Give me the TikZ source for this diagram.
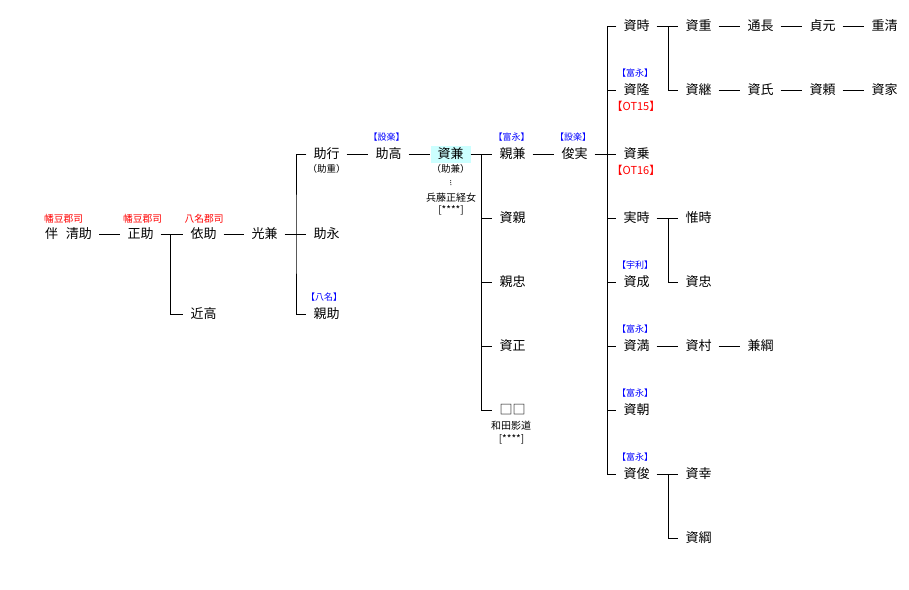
\documentclass[tikz,border=0pt]{standalone}
\usepackage{fontspec}
\setmainfont{Noto Sans CJK JP}
\definecolor{hl}{RGB}{204,255,255}
\begin{document}
\begin{tikzpicture}[x=1pt,y=-1pt,
  person/.style={inner xsep=7pt, inner ysep=2pt, text height=11pt, text depth=2pt, font=\fontsize{13pt}{13pt}\selectfont},
  gun/.style={text=red, inner sep=0pt, font=\fontsize{9.75pt}{10pt}\selectfont},
  clan/.style={text=blue, inner sep=0pt, font=\fontsize{9pt}{9pt}\selectfont},
  ot/.style={text=red, inner sep=0pt, font=\fontsize{11pt}{11pt}\selectfont},
  note/.style={inner sep=0pt, text height=8pt, text depth=2pt, font=\fontsize{10pt}{10pt}\selectfont},
  pnote/.style={inner sep=0pt, text height=8pt, text depth=2pt, font=\fontsize{9.5pt}{9.5pt}\selectfont},
  link/.style={line width=1pt, black},
  dotlink/.style={line width=1pt, dash pattern=on 1pt off 1pt, black!70}]
\fill[white] (0,0) rectangle (909,589);
\useasboundingbox (0,0) rectangle (909,589);

% people
\node[person] (kiyosuke) at (68.5,234) {伴\hspace{8pt}清助};
\node[person] (masasuke) at (140.5,234) {正助};
\node[person] (yorisuke) at (203.5,234) {依助};
\node[person] (chikataka) at (203.5,314) {近高};
\node[person] (mitsukane) at (264.5,234) {光兼};
\node[person] (sukeyuki) at (326.5,154) {助行};
\node[person] (sukenaga) at (326.5,234) {助永};
\node[person] (chikasuke) at (326.5,314) {親助};
\node[person] (suketaka) at (388.5,154) {助高};
\node[person, fill=hl] (sukekane) at (450.5,154) {資兼};
\node[person] (chikakane) at (512.5,154) {親兼};
\node[person] (sukechika) at (512.5,218) {資親};
\node[person] (chikatada) at (512.5,282) {親忠};
\node[person] (sukemasa) at (512.5,346) {資正};
\node[person] (unknown) at (512.5,410) {□□};
\node[person] (toshizane) at (574.5,154) {俊実};
\node[person] (suketoki) at (636.5,26) {資時};
\node[person] (suketaka2) at (636.5,90) {資隆};
\node[person] (sukenori) at (636.5,154) {資乗};
\node[person] (sanetoki) at (636.5,218) {実時};
\node[person] (sukenari) at (636.5,282) {資成};
\node[person] (sukemitsu) at (636.5,346) {資満};
\node[person] (suketomo) at (636.5,410) {資朝};
\node[person] (suketoshi) at (636.5,474) {資俊};
\node[person] (sukeshige) at (698.5,26) {資重};
\node[person] (suketsugu) at (698.5,90) {資継};
\node[person] (koretoki) at (698.5,218) {惟時};
\node[person] (suketada) at (698.5,282) {資忠};
\node[person] (sukemura) at (698.5,346) {資村};
\node[person] (sukeyuki2) at (698.5,474) {資幸};
\node[person] (suketsuna) at (698.5,538) {資綱};
\node[person] (michinaga) at (760.5,26) {通長};
\node[person] (sukeuji) at (760.5,90) {資氏};
\node[person] (kanetsuna) at (760.5,346) {兼綱};
\node[person] (sadamoto) at (822.5,26) {貞元};
\node[person] (sukeyori) at (822.5,90) {資頼};
\node[person] (shigekiyo) at (884.5,26) {重清};
\node[person] (sukeie) at (884.5,90) {資家};

% labels
\node[gun] (g1) at (63.5,219) {幡豆郡司};
\node[gun] (g2) at (142.5,219) {幡豆郡司};
\node[gun] (g3) at (204,219) {八名郡司};
\node[clan] (k1) at (324,297) {【八名】};
\node[clan] (k2) at (386.5,137) {【設楽】};
\node[clan] (k3) at (511.5,137) {【富永】};
\node[clan] (k4) at (573,137) {【設楽】};
\node[clan] (k5) at (635,73) {【富永】};
\node[clan] (k6) at (635,265) {【宇利】};
\node[clan] (k7) at (635,329) {【富永】};
\node[clan] (k8) at (635,393) {【富永】};
\node[clan] (k9) at (635,457) {【富永】};
\node[ot] (o1) at (636,106) {【OT15】};
\node[ot] (o2) at (636,170) {【OT16】};
\node[pnote] (n1) at (326.5,169) {（助重）};
\node[pnote] (n2) at (450.5,169) {（助兼）};
\node[note] (n3) at (451,198) {兵藤正経女};
\node[note] (n4) at (451,210) {[****]};
\node[note] (n5) at (511,426) {和田影道};
\node[note] (n6) at (511.5,439) {[****]};

% branch points
\coordinate (b1) at (170,234);
\coordinate (b2) at (296,234);
\coordinate (b3) at (481,154);
\coordinate (b4) at (607,154);
\coordinate (b5) at (668,26);
\coordinate (b6) at (668,218);
\coordinate (b7) at (668,474);

% connectors
\draw[link] (kiyosuke) -- (masasuke);
\draw[link] (masasuke) -- (yorisuke);
\draw[link] (b1) |- (chikataka.west);
\draw[link] (yorisuke) -- (mitsukane);
\draw[link] (mitsukane) -- (sukenaga);
\draw[link] (sukeyuki.west) -| (b2) |- (chikasuke.west);
\draw[link] (sukeyuki) -- (suketaka);
\draw[link] (suketaka) -- (sukekane);
\draw[link] (sukekane) -- (chikakane);
\draw[link] (b3) |- (unknown.west);
\foreach \n in {sukechika,chikatada,sukemasa}
  \draw[link] (b3 |- \n) -- (\n.west);
\draw[link] (chikakane) -- (toshizane);
\draw[link] (toshizane) -- (sukenori);
\draw[link] (suketoki.west) -| (b4) |- (suketoshi.west);
\foreach \n in {suketaka2,sanetoki,sukenari,sukemitsu,suketomo}
  \draw[link] (b4 |- \n) -- (\n.west);
\draw[link] (suketoki) -- (sukeshige);
\draw[link] (b5) |- (suketsugu.west);
\draw[link] (sukeshige) -- (michinaga);
\draw[link] (michinaga) -- (sadamoto);
\draw[link] (sadamoto) -- (shigekiyo);
\draw[link] (suketsugu) -- (sukeuji);
\draw[link] (sukeuji) -- (sukeyori);
\draw[link] (sukeyori) -- (sukeie);
\draw[link] (sanetoki) -- (koretoki);
\draw[link] (b6) |- (suketada.west);
\draw[link] (sukemitsu) -- (sukemura);
\draw[link] (sukemura) -- (kanetsuna);
\draw[link] (suketoshi) -- (sukeyuki2);
\draw[link] (b7) |- (suketsuna.west);
\draw[dotlink, shorten <=6pt, shorten >=7pt] (n2.south) -- (n3.north);
\end{tikzpicture}
\end{document}
